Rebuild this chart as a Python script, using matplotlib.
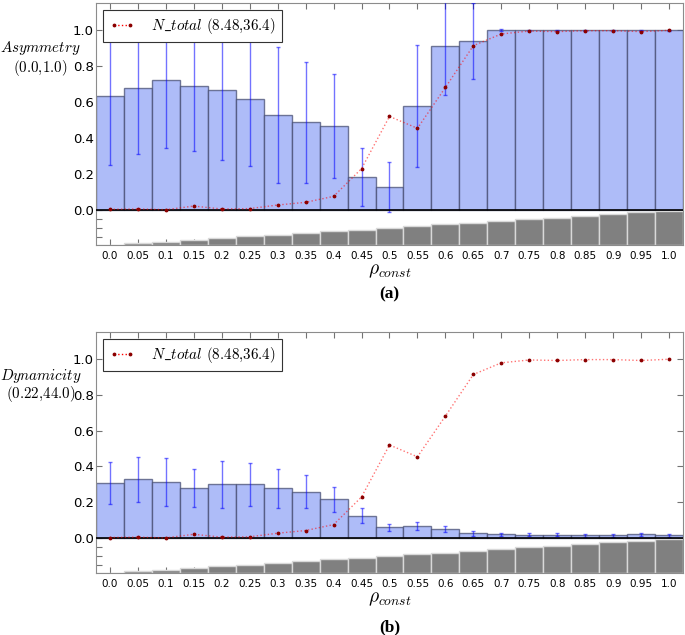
import matplotlib.pyplot as plt

plt.rcParams['mathtext.fontset'] = 'cm'

# rho_const values (x positions / tick labels)
rho = [0.0, 0.05, 0.1, 0.15, 0.2, 0.25, 0.3, 0.35, 0.4, 0.45, 0.5,
       0.55, 0.6, 0.65, 0.7, 0.75, 0.8, 0.85, 0.9, 0.95, 1.0]
rho_labels = ['0.0', '0.05', '0.1', '0.15', '0.2', '0.25', '0.3', '0.35', '0.4', '0.45', '0.5',
              '0.55', '0.6', '0.65', '0.7', '0.75', '0.8', '0.85', '0.9', '0.95', '1.0']

# panel (a) asymmetry
asym = [0.635, 0.676, 0.72, 0.687, 0.667, 0.617, 0.526, 0.487, 0.465, 0.185, 0.128,
        0.576, 0.909, 0.939, 0.998, 0.998, 0.998, 0.998, 0.998, 0.998, 0.998]
asym_err = [0.385, 0.367, 0.374, 0.357, 0.389, 0.371, 0.377, 0.334, 0.289, 0.161, 0.137,
            0.339, 0.268, 0.209, 0.005, 0.004, 0.004, 0.004, 0.004, 0.004, 0.004]

# panel (b) dynamicity
dyn = [0.306, 0.328, 0.313, 0.28, 0.3, 0.3, 0.278, 0.259, 0.217, 0.126, 0.061,
       0.067, 0.05, 0.028, 0.022, 0.019, 0.019, 0.017, 0.017, 0.022, 0.017]
dyn_err = [0.117, 0.127, 0.136, 0.104, 0.133, 0.12, 0.11, 0.091, 0.07, 0.042, 0.02,
           0.023, 0.016, 0.014, 0.008, 0.008, 0.008, 0.008, 0.008, 0.008, 0.008]

# N_total (normalised), same in both panels
n_total = [0.004, 0.006, 0.002, 0.022, 0.006, 0.008, 0.028, 0.043, 0.076, 0.23, 0.52,
           0.454, 0.681, 0.913, 0.978, 0.994, 0.991, 0.996, 0.996, 0.991, 0.998]

# grey strip below the zero line
strip = [0.0, 0.05, 0.1, 0.15, 0.2, 0.25, 0.3, 0.35, 0.4, 0.45, 0.5,
         0.55, 0.6, 0.65, 0.7, 0.75, 0.8, 0.85, 0.9, 0.95, 1.0]

panels = [
    (asym, asym_err, '$Asymmetry$', '$(0.0{,}1.0)$', '(a)'),
    (dyn, dyn_err, '$Dynamicity$', '$(0.22{,}44.0)$', '(b)'),
]
ax_pos = [[0.1401, 0.6142, 0.857, 0.3811], [0.1401, 0.0976, 0.857, 0.3796]]
name_y = [1 - 48 / 635, 1 - 376 / 635]
range_y = [1 - 68 / 635, 1 - 394 / 635]
xlabel_y = [1 - 270 / 635, 1 - 598 / 635]
panel_y = [1 - 294 / 635, 1 - 627 / 635]

fig = plt.figure(figsize=(6.85, 6.35), dpi=100)
strip_bottom = -0.194

for i, (vals, errs, name, rng, tag) in enumerate(panels):
    ax = fig.add_axes(ax_pos[i])
    ax.bar(rho, vals, width=0.05, color='#aebcf8', edgecolor=(0.25, 0.28, 0.42, 0.7), linewidth=1.0, zorder=2)
    ax.errorbar(rho, vals, yerr=errs, fmt='none', ecolor='blue', alpha=0.55, elinewidth=1.0,
                capsize=1.5, capthick=1.0, zorder=3)
    ax.bar(rho, [s * 0.19 for s in strip], width=0.05, bottom=strip_bottom, color='0.5',
           edgecolor='0.85', linewidth=1.0, zorder=2)
    ax.axhline(0, color='black', lw=1.2, zorder=4)
    ax.plot(rho, n_total, color='red', linestyle=':', lw=1.0, alpha=0.55, zorder=5)
    ax.plot(rho, n_total, linestyle='none', marker='.', markersize=3.5, color='darkred', zorder=6)
    ax.plot([], [], color='red', linestyle=':', lw=1.0, marker='.', markersize=3.5,
            markerfacecolor='darkred', markeredgecolor='darkred', label=r'$N\_total$ $(8.48{,}36.4)$')
    leg = ax.legend(loc='upper left', fontsize=10.8, numpoints=2, fancybox=False, framealpha=1,
                    borderaxespad=0.5, handlelength=1.7, handletextpad=1.1, borderpad=0.4)
    leg.get_frame().set_edgecolor('0.2')
    leg.get_frame().set_linewidth(0.8)
    leg.set_zorder(10)

    ax.set_xlim(-0.025, 1.025)
    ax.set_ylim(strip_bottom, 1.15)
    ax.set_xticks(rho)
    ax.set_xticklabels(rho_labels, fontsize=7.5)
    ax.set_yticks([-0.15, -0.1, -0.05, 0.0, 0.2, 0.4, 0.6, 0.8, 1.0])
    ax.set_yticklabels(['', '', '', '0.0', '0.2', '0.4', '0.6', '0.8', '1.0'], fontsize=9.5)
    ax.tick_params(direction='in', top=True, right=True, length=4, color='0.45')
    ax.tick_params(axis='x', pad=4)
    ax.tick_params(axis='y', pad=1.5)
    for sp in ax.spines.values():
        sp.set_color('0.55')

    fig.text(0.059, name_y[i], name, ha='center', va='center', fontsize=10.8)
    fig.text(0.059, range_y[i], rng, ha='center', va='center', fontsize=10.8)
    fig.text(0.1401 + 0.857 / 2, xlabel_y[i], r'$\rho_{const}$', ha='center', va='center', fontsize=14)
    fig.text(0.1401 + 0.857 / 2, panel_y[i], tag, ha='center', va='center', fontsize=12.5,
             fontweight='bold', family='Liberation Serif')

plt.savefig('out.png', dpi=100)
